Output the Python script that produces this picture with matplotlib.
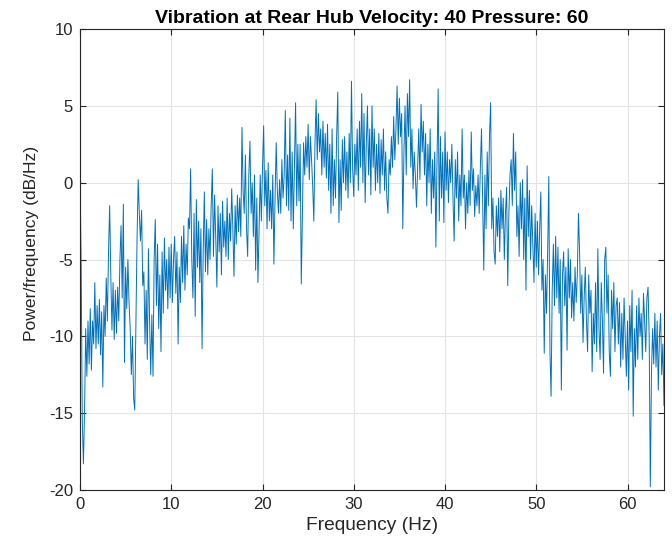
import numpy as np
import matplotlib
matplotlib.use("Agg")
import matplotlib.pyplot as plt

title = "Vibration at Rear Hub Velocity: 40 Pressure: 60"
xlabel = "Frequency (Hz)"
ylabel = "Power/frequency (dB/Hz)"
xticks = [0, 10, 20, 30, 40, 50, 60]
yticks = [-20, -15, -10, -5, 0, 5, 10]

freq_step = 0.125
psd_db = [
    0.8, -5.2, -15.5, -18.3, -14.8, -9.5, -12.6, -9.0,
    -11.8, -8.2, -12.2, -9.0, -10.5, -6.5, -10.8, -8.0,
    -10.5, -7.6, -11.2, -8.4, -13.3, -8.0, -10.0, -6.2,
    -9.0, -4.5, -1.5, -6.0, -9.6, -6.5, -10.2, -7.0,
    -9.8, -6.8, -9.0, -5.0, -2.8, -7.5, -1.4, -11.7,
    -5.5, -8.2, -5.0, -7.8, -9.5, -12.5, -10.0, -14.0,
    -14.8, -9.0, -3.7, 0.2, -2.0, -3.8, -1.8, -6.7,
    -5.8, -10.5, -7.0, -11.5, -4.3, -9.0, -12.5, -8.6,
    -12.6, -5.0, -2.4, -8.0, -4.0, -9.5, -6.0, -11.0,
    -4.5, -8.5, -3.6, -7.0, -5.0, -8.2, -4.2, -7.5,
    -4.0, -7.8, -5.0, -3.5, -7.2, -4.5, -10.5, -5.5,
    -7.8, -3.5, -6.5, -2.8, -7.0, -4.0, -6.0, -2.3,
    -3.0, 0.9, -5.0, -7.5, -2.0, -8.7, -1.1, -5.5,
    -2.5, -6.5, -3.0, -10.8, -4.5, -0.6, -5.8, -2.4,
    -6.0, -3.0, -5.0, -1.5, 0.9, -4.8, -0.8, -3.5,
    -6.8, -1.5, -4.5, -2.0, -6.0, -1.2, -4.2, -2.5,
    -4.8, -1.0, -5.0, -2.0, -3.8, -0.4, -3.0, -6.1,
    -1.5, -4.0, -0.8, -3.2, -1.0, -3.5, 3.6, -0.5,
    -2.0, 1.8, -3.0, -4.8, 0.5, 2.7, -2.0, 0.0,
    -3.5, 0.5, -5.7, -1.0, -6.5, -3.0, 0.5, -2.5,
    1.0, 3.7, -1.5, 0.8, -3.0, 1.3, -2.5, -0.5,
    -3.0, 0.5, -5.3, -1.0, 2.6, -0.5, -2.0, 0.2,
    -2.0, 1.5, -1.0, 0.5, 4.7, -1.5, 1.8, -1.8,
    4.2, -2.5, 2.0, -3.0, 1.0, 5.2, -1.5, 2.5,
    -1.2, 2.5, -6.6, -2.0, 2.6, 0.5, 3.0, 1.0,
    3.8, 0.2, 3.0, 1.5, -0.2, -2.5, 2.5, 5.4,
    1.5, 4.5, 2.0, 3.5, 0.5, 4.0, 1.0, 3.2,
    0.3, 3.8, -0.5, 2.5, -2.0, 3.5, -1.5, 1.5,
    -1.0, 3.0, 5.9, -2.6, 1.5, -1.8, 2.8, 0.0,
    3.0, -0.5, 2.0, -1.0, 3.2, 0.0, 6.6, 1.0,
    -0.9, 2.5, 0.5, 3.5, -0.5, 4.0, 1.0, 5.8,
    0.0, 4.5, -1.3, 2.5, 5.0, 0.5, 3.5, -0.8,
    5.0, 1.0, 3.5, -0.5, 2.5, 0.0, 3.2, -0.7,
    2.8, 0.5, 3.5, -0.5, 2.0, -1.0, -2.0, 1.5,
    0.5, 3.0, 1.0, 4.3, 1.5, 3.5, 6.3, 2.5,
    5.5, 3.0, 4.5, -3.0, 2.0, 5.0, 0.5, 5.8,
    3.0, 6.7, 1.0, 3.5, -0.4, 2.0, 0.5, -1.6,
    1.0, 3.5, 0.2, 5.1, 2.0, 4.0, 0.5, 3.2,
    -1.5, 2.5, 0.0, 3.5, -2.0, 1.5, -1.0, 2.0,
    -4.2, 1.5, 6.1, -2.5, 3.0, -1.0, 2.0, -2.6,
    3.3, -0.5, 2.0, -1.3, 1.5, 0.0, 2.5, -1.0,
    -3.8, 1.5, -1.0, 2.0, -2.5, 0.5, -1.5, 3.5,
    -1.0, 0.5, -3.0, 0.0, -2.0, 0.8, -1.5, 3.3,
    -0.5, 0.9, -2.2, -0.2, -1.5, 0.5, -2.0, 1.0,
    3.5, -1.0, -5.7, 0.5, -3.0, 2.0, -1.5, 3.0,
    5.2, -3.0, -1.0, -4.5, -5.3, -1.5, -3.5, -1.0,
    -4.5, -0.5, -3.0, -1.0, -5.0, -2.0, -0.3, -6.7,
    -2.0, 0.5, 1.5, -1.5, 3.2, -0.5, 2.0, -3.5,
    -1.5, -4.8, 0.0, -3.0, 0.2, -5.0, -1.0, -7.0,
    1.1, -3.5, -0.5, -5.0, -1.5, -4.0, -6.5, -2.0,
    -5.5, -2.5, -6.0, -3.0, -0.6, -7.0, -5.0, -11.1,
    -6.0, -8.5, -4.5, 0.4, -11.0, -13.9, -7.0, -4.0,
    -8.0, -3.5, -7.5, -4.2, -8.5, -5.0, -13.5, -6.0,
    -4.5, -8.0, -5.5, -10.9, -4.3, -7.5, -5.0, -8.8,
    -6.5, -9.0, -5.5, -7.8, -6.0, -2.0, -4.5, -8.5,
    -6.0, -10.4, -7.5, -5.5, -9.0, -11.0, -6.0, -8.5,
    -7.0, -12.3, -8.5, -10.5, -6.5, -11.0, -4.3, -9.5,
    -11.5, -6.5, -9.0, -12.4, -5.0, -4.2, -8.5, -6.0,
    -11.0, -12.6, -7.0, -9.5, -6.5, -11.0, -8.0, -7.5,
    -10.5, -7.8, -12.0, -8.5, -11.5, -7.5, -10.0, -12.6,
    -9.0, -13.5, -8.0, -11.0, -7.0, -15.2, -9.5, -12.0,
    -8.0, -11.5, -7.5, -10.0, -8.5, -11.5, -7.2, -9.0,
    -11.0, -7.5, -6.8, -10.0, -19.8, -12.5, -9.5, -11.8,
    -8.5, -12.0, -9.0, -13.5, -10.0, -8.5, -12.5, -10.5,
    -14.5,
]
freqs = np.arange(len(psd_db)) * freq_step

plt.rcParams['font.family'] = ['Liberation Sans', 'DejaVu Sans']
plt.rcParams['axes.unicode_minus'] = False
fig = plt.figure(figsize=(6.72, 5.48), dpi=100)
ax = fig.add_axes([80/672, (548-490)/548, (664-80)/672, (490-29)/548])

ax.plot(freqs, psd_db, color='#0072BD', linewidth=0.7)
ax.set_xlim(0, 64)
ax.set_ylim(-20, 10)
ax.set_xticks(xticks)
ax.set_yticks(yticks)
ax.grid(True, color='#e3e3e3', linewidth=0.8)
ax.set_axisbelow(True)
ax.tick_params(direction='in', top=True, right=True, labelsize=12, colors='#262626',
               length=4, width=0.8, pad=5)
for s in ax.spines.values():
    s.set_color('#262626')
    s.set_linewidth(0.8)
ax.set_xlabel(xlabel, fontsize=13.8, color='#262626', labelpad=4)
ax.set_ylabel(ylabel, fontsize=12.6, color='#262626')
ax.yaxis.set_label_coords(-0.070, (490 - 243) / 461)
ax.set_title(title, fontsize=14, fontweight='bold', color='black', pad=4)

fig.savefig('out.png', dpi=100)
